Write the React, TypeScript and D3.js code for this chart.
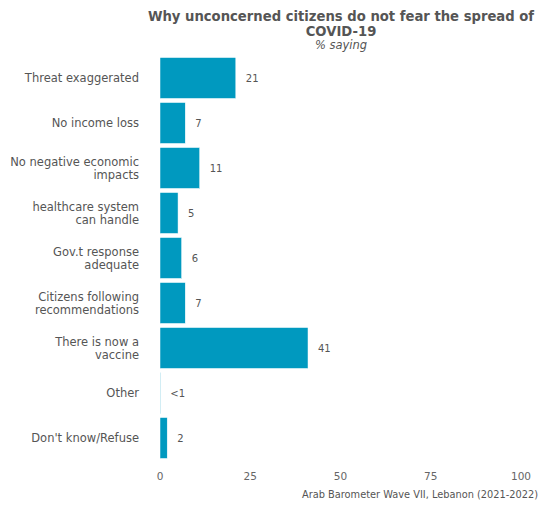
import React from "react";
import * as d3 from "d3";

const categories = [
  ["Threat exaggerated"],
  ["No income loss"],
  ["No negative economic", "impacts"],
  ["healthcare system", "can handle"],
  ["Gov.t response", "adequate"],
  ["Citizens following", "recommendations"],
  ["There is now a", "vaccine"],
  ["Other"],
  ["Don't know/Refuse"],
];
const values = [21, 7, 11, 5, 6, 7, 41, 0.1, 2];
const valueLabels = ["21", "7", "11", "5", "6", "7", "41", "<1", "2"];
const xTicks = [0, 25, 50, 75, 100];

const W = 539;
const H = 506;
const FONT = "'DejaVu Sans', sans-serif";

export default function App() {
  const x = d3.scaleLinear().domain([0, 100]).range([160, 521]);
  const y = d3
    .scaleBand<number>()
    .domain(d3.range(categories.length))
    .range([55.5, 460.5])
    .paddingInner(0.09)
    .paddingOuter(0.045);
  return (
    <svg width={W} height={H} style={{ position: "absolute", left: 0, top: 0 }}>
      <rect width={W} height={H} fill="#fff" />
      <g fontFamily={FONT} fill="#555" textAnchor="middle">
        <text x={341} y={21} fontSize={13.2} fontWeight="bold">
          Why unconcerned citizens do not fear the spread of
        </text>
        <text x={341} y={36} fontSize={13.2} fontWeight="bold">
          COVID-19
        </text>
        <text x={341} y={49} fontSize={11.5} fontStyle="italic">
          % saying
        </text>
      </g>
      {values.map((v, i) => {
        const y0 = y(i)!;
        const bw = y.bandwidth();
        const lines = categories[i];
        const cy = y0 + bw / 2;
        return (
          <g key={i}>
            <rect
              x={x(0)}
              y={y0}
              width={Math.max(0, x(v) - x(0))}
              height={bw}
              fill="#0099BF"
              stroke="#fff"
              strokeWidth={0.5}
            />
            <text
              x={x(v) + 10}
              y={cy}
              dy="0.35em"
              fontFamily={FONT}
              fontSize={10}
              fill="#555"
            >
              {valueLabels[i]}
            </text>
            <text
              x={139}
              textAnchor="end"
              fontFamily={FONT}
              fontSize={11.5}
              fill="#555"
            >
              {lines.map((l, j) => (
                <tspan
                  key={j}
                  x={139}
                  y={cy + (j - (lines.length - 1) / 2) * 13}
                  dy="0.35em"
                >
                  {l}
                </tspan>
              ))}
            </text>
          </g>
        );
      })}
      {xTicks.map((t) => (
        <text
          key={t}
          x={x(t)}
          y={476}
          dy="0.35em"
          textAnchor="middle"
          fontFamily={FONT}
          fontSize={10.5}
          fill="#666"
        >
          {t}
        </text>
      ))}
      <text
        x={538}
        y={498}
        textAnchor="end"
        fontFamily={FONT}
        fontSize={9.8}
        fill="#555"
      >
        Arab Barometer Wave VII, Lebanon (2021-2022)
      </text>
    </svg>
  );
}
